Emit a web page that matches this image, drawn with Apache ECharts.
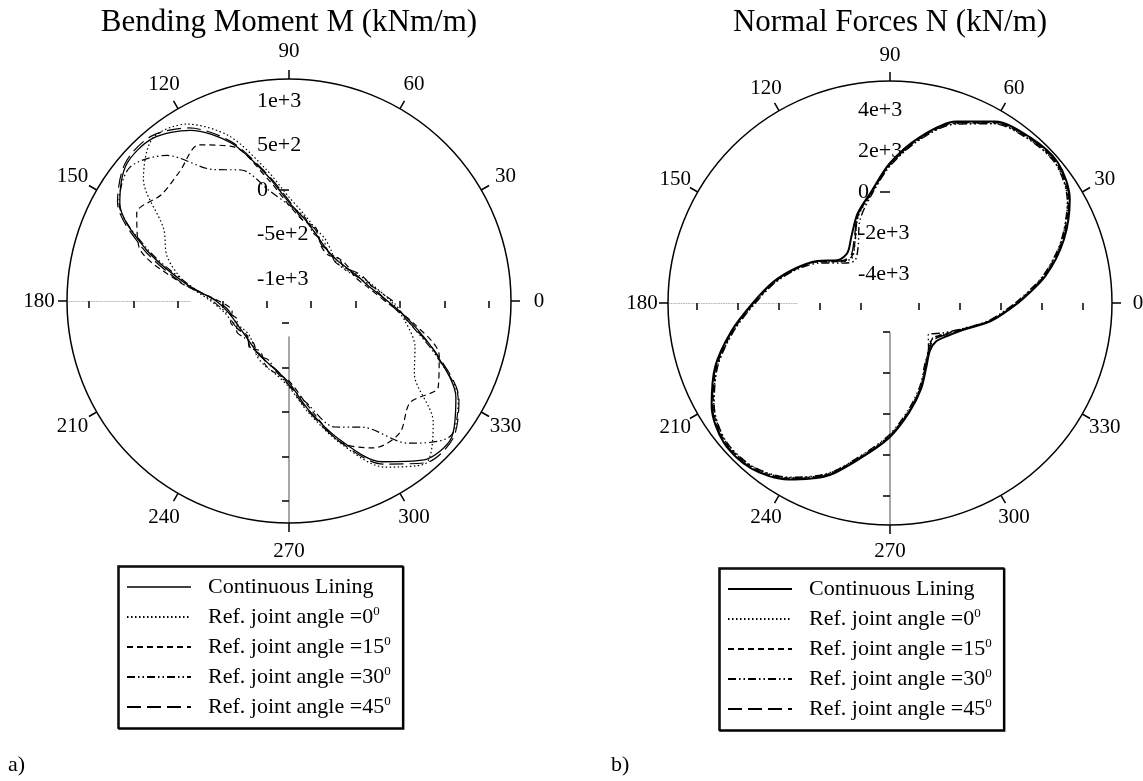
<!DOCTYPE html>
<html>
<head>
<meta charset="utf-8">
<script src="https://cdn.jsdelivr.net/npm/echarts@6/dist/echarts.min.js"></script>
<style>
html, body { margin: 0; padding: 0; background: #fff; }
#chart { width: 1143px; height: 781px; }
</style>
</head>
<body>
<div id="chart"></div>
<script>
var FONT = 'Liberation Serif';

var angles = [0, 10, 20, 30, 40, 50, 60, 70, 80, 90, 100, 110, 120, 130, 140, 150, 160, 170, 180,
  190, 200, 210, 220, 230, 240, 250, 260, 270, 280, 290, 300, 310, 320, 330, 340, 350, 360];
var angleTicks = [0, 30, 60, 90, 120, 150, 180, 210, 240, 270, 300, 330];

var seriesNames = ['Continuous Lining', 'Ref. joint angle =0', 'Ref. joint angle =15',
  'Ref. joint angle =30', 'Ref. joint angle =45'];

// bending moment M (kNm/m)
var mTicks = [-1000, -500, 0, 500, 1000];
var mTickLabels = ['-1e+3', '-5e+2', '0', '5e+2', '1e+3'];
var mContinuous = [-140, -330, -430, -500, -540, -540, -500, -420, -300, -140, 190, 640, 970, 1140, 1140, 950, 470, -50, -430,
  -550, -600, -620, -620, -600, -560, -520, -450, -330, -10, 410, 840, 1090, 1140, 920, 520, 150, -140];
var mRef0 = [-100, -280, -410, -530, -560, -510, -440, -380, -260, -80, 260, 730, 1050, 1140, 890, 380, 210, -60, -370,
  -510, -570, -640, -660, -620, -530, -470, -410, -280, 30, 460, 910, 1140, 870, 380, 260, 80, -100];
var mRef15 = [-170, -350, -460, -480, -510, -570, -530, -370, -330, -170, 150, 600, 780, 660, 620, 730, 550, 10, -460,
  -600, -550, -600, -640, -560, -600, -480, -420, -350, -60, 440, 660, 690, 530, 690, 550, 170, -170];
var mRef30 = [-80, -300, -440, -530, -510, -550, -470, -440, -280, -170, 10, 320, 460, 890, 1090, 960, 440, -80, -390,
  -530, -630, -570, -600, -630, -540, -550, -440, -300, -80, 260, 390, 840, 1120, 950, 500, 120, -80];
var mRef45 = [-150, -300, -390, -510, -570, -530, -520, -390, -330, -120, 210, 660, 1000, 1170, 1160, 980, 510, -10, -440,
  -570, -570, -600, -630, -570, -570, -510, -460, -300, 10, 440, 870, 1130, 1160, 960, 530, 120, -150];

// normal forces N (kN/m)
var nTicks = [-4000, -2000, 0, 2000, 4000];
var nTickLabels = ['-4e+3', '-2e+3', '0', '2e+3', '4e+3'];
var nContinuous = [830, 2290, 3600, 4700, 5250, 5150, 4800, 3990, 2770, 1410, 50, -780, -1650, -2190, -2140, -1310, -490, 390, 1270,
  2430, 3650, 4620, 5160, 5110, 4520, 3550, 2190, 1120, 0, -970, -1850, -2380, -2480, -2190, -1600, -390, 830];
var nRef0 = [760, 2180, 3480, 4580, 5140, 5050, 4690, 3880, 2650, 1300, -60, -900, -2000, -2530, -2290, -1400, -570, 300, 1170,
  2320, 3530, 4500, 5050, 5000, 4410, 3440, 2090, 1020, -100, -1060, -1950, -2480, -2720, -2380, -1700, -480, 760];
var nRef15 = [790, 2220, 3520, 4620, 5180, 5090, 4730, 3920, 2700, 1340, -20, -860, -1980, -2480, -2260, -1380, -540, 330, 1210,
  2360, 3570, 4540, 5090, 5040, 4450, 3480, 2130, 1060, -60, -1030, -1920, -2460, -2700, -2350, -1680, -450, 790];
var nRef30 = [700, 2150, 3460, 4560, 5120, 5030, 4670, 3860, 2630, 1260, -100, -1120, -2290, -2720, -2380, -1510, -600, 280, 1150,
  2300, 3510, 4480, 5030, 4980, 4390, 3420, 2060, 980, -150, -1120, -2000, -2480, -2970, -2480, -1700, -500, 700];
var nRef45 = [810, 2250, 3560, 4660, 5210, 5110, 4760, 3950, 2730, 1370, 10, -830, -1900, -2420, -2220, -1350, -520, 360, 1240,
  2390, 3610, 4580, 5120, 5070, 4480, 3510, 2160, 1090, -40, -1010, -1900, -2440, -2620, -2300, -1650, -430, 810];

var dashes = ['solid', [1.5, 2.5], [6, 4], [8, 3, 1.5, 3, 1.5, 3], [14, 6]];

var panels = [
  { center: [289, 301], min: -1250, max: 1250, ticks: mTicks, labels: mTickLabels, labelR: 250,
    dottedInner: 99, grayInner: 36, values: [mContinuous, mRef0, mRef15, mRef30, mRef45], widths: [1.3, 1.2, 1.2, 1.2, 1.2] },
  { center: [890, 303], min: -5400, max: 5400, ticks: nTicks, labels: nTickLabels, labelR: 248,
    dottedInner: 93, grayInner: 30, values: [nContinuous, nRef0, nRef15, nRef30, nRef45], widths: [2, 1.4, 1.4, 1.4, 1.4] }
];

var R = 222;
var polar = [], angleAxis = [], radiusAxis = [], series = [];
var black = { color: '#000', width: 1.5 };

panels.forEach(function (p, k) {
  var base = k * 7;
  // 0: main circle + series, ticks towards 0 deg
  // 1: labels towards 90 deg, 2: ticks towards 180, 3: ticks towards 270
  // 4: dotted partial line at 180, 5: gray partial line at 270, 6: ring for angle labels
  var starts = [0, 90, 180, 270, 180, 270, 0];
  var radii = [R, R, R, R, [p.dottedInner, R], [p.grayInner, R], p.labelR];
  starts.forEach(function (s, j) {
    polar.push({ center: p.center, radius: radii[j] });
    angleAxis.push({
      polarIndex: base + j, type: 'value', min: 0, max: 360, startAngle: s, clockwise: false,
      show: j === 0,
      axisLine: { show: true, lineStyle: black },
      axisTick: { show: true, customValues: angleTicks, length: 9, lineStyle: black },
      axisLabel: { show: false },
      splitLine: { show: false }
    });
    var ra = {
      polarIndex: base + j, type: 'value', min: j === 6 ? 0 : p.min, max: j === 6 ? 1 : p.max,
      axisLine: { show: false },
      axisTick: { show: false },
      axisLabel: { show: false },
      splitLine: { show: false }
    };
    if (j === 0) ra.axisTick = { show: true, customValues: p.ticks, length: -7, lineStyle: black };
    if (j === 2) ra.axisTick = { show: true, customValues: p.ticks, length: 7, lineStyle: black };
    if (j === 3) ra.axisTick = { show: true, customValues: p.ticks, length: -7, lineStyle: black };
    if (j === 1) {
      ra.axisTick = { show: true, customValues: [0], length: 10, lineStyle: black };
      ra.axisLabel = {
        show: true, customValues: p.ticks, align: 'left', verticalAlign: 'middle', margin: 32,
        color: '#000', fontFamily: FONT, fontSize: 22,
        formatter: (function (ticks, labels) {
          return function (v) { return labels[ticks.indexOf(v)]; };
        })(p.ticks, p.labels)
      };
    }
    if (j === 4) ra.axisLine = { show: true, lineStyle: { color: '#bbb', width: 1, type: [1, 1.5] } };
    if (j === 5) ra.axisLine = { show: true, lineStyle: { color: '#8a8a8a', width: 1.5 } };
    radiusAxis.push(ra);
  });

  seriesNames.forEach(function (name, i) {
    series.push({
      name: name, type: 'line', coordinateSystem: 'polar', polarIndex: base,
      symbol: 'none', smooth: 0.3, clip: false, z: 5,
      lineStyle: { color: '#000', width: p.widths[i], type: dashes[i] },
      itemStyle: { color: '#000' },
      data: p.values[i].map(function (v, n) { return [v, angles[n]]; })
    });
  });

  // angle labels, centred on a ring just outside the circle
  series.push({
    type: 'scatter', coordinateSystem: 'polar', polarIndex: base + 6, silent: true,
    symbolSize: 1, itemStyle: { color: 'rgba(0,0,0,0)', opacity: 1 },
    label: {
      show: true, position: 'inside', color: '#000', opacity: 1, fontFamily: FONT, fontSize: 21,
      formatter: function (prm) { return String(prm.value[1]); }
    },
    data: angleTicks.map(function (a) { return [1, a]; })
  });
});

function legendFor(left, top, firstWidth) {
  return {
    orient: 'vertical', left: left, top: top, selectedMode: false,
    padding: [9, 12, 9, 8], itemWidth: 64, itemHeight: 14, itemGap: 6,
    backgroundColor: '#fff', borderColor: '#000', borderWidth: 1.5,
    shadowColor: '#000', shadowOffsetX: 1, shadowOffsetY: 1, shadowBlur: 0,
    itemStyle: { color: 'rgba(0,0,0,0)', borderWidth: 0 },
    data: seriesNames.map(function (n, i) {
      return i === 0 ? { name: n, lineStyle: { width: firstWidth } } : { name: n };
    }),
    formatter: function (name) {
      return name === seriesNames[0] ? name : '{t|' + name + '}{s|0}';
    },
    textStyle: {
      color: '#000', fontFamily: FONT, fontSize: 22, lineHeight: 24, padding: [0, 0, 0, 12],
      rich: {
        t: { color: '#000', fontFamily: FONT, fontSize: 22, lineHeight: 24 },
        s: { color: '#000', fontFamily: FONT, fontSize: 13, lineHeight: 14, verticalAlign: 'top' }
      }
    }
  };
}

var titleStyle = { color: '#000', fontFamily: FONT, fontSize: 31, fontWeight: 'normal' };
var tagStyle = { color: '#000', fontFamily: FONT, fontSize: 22, fontWeight: 'normal' };

var option = {
  animation: false,
  backgroundColor: '#fff',
  title: [
    { text: 'Bending Moment M (kNm/m)', left: 289, top: 7, textAlign: 'center', padding: 0, textStyle: titleStyle },
    { text: 'Normal Forces N (kN/m)', left: 890, top: 7, textAlign: 'center', padding: 0, textStyle: titleStyle },
    { text: 'a)', left: 8, top: 754, padding: 0, textStyle: tagStyle },
    { text: 'b)', left: 611, top: 754, padding: 0, textStyle: tagStyle }
  ],
  legend: [legendFor(118, 566, 1.3), legendFor(719, 568, 2)],
  polar: polar,
  angleAxis: angleAxis,
  radiusAxis: radiusAxis,
  series: series
};

var chart = echarts.init(document.getElementById('chart'));
chart.setOption(option);
</script>
</body>
</html>
